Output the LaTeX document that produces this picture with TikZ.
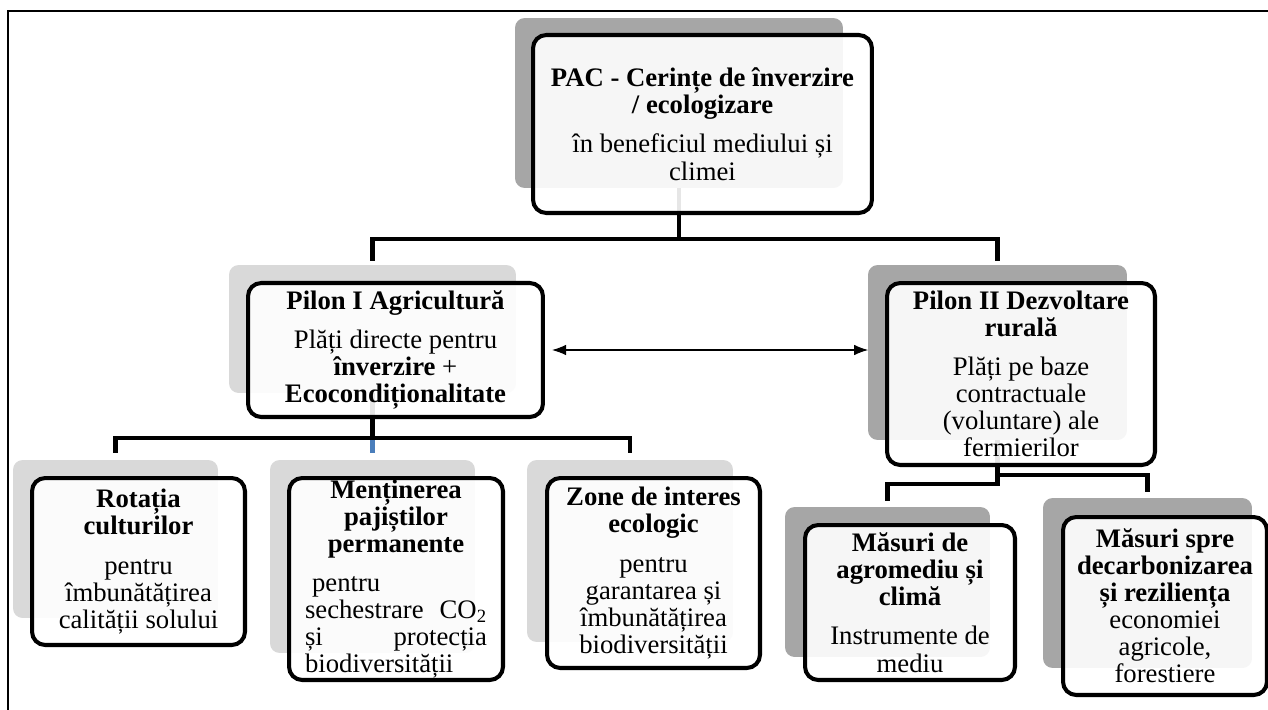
\documentclass[tikz,border=0pt]{standalone}
\usepackage{fontspec}
\setmainfont{Liberation Serif}
\usepackage{tikz}
\usetikzlibrary{arrows.meta,positioning}
\definecolor{shdark}{HTML}{A6A6A6}
\definecolor{shlight}{HTML}{D9D9D9}
\definecolor{stubblue}{HTML}{4A7EBB}
\tikzset{edge/.style={line width=2.3pt, line join=miter}}
\tikzset{shd/.style={rectangle, rounded corners=5.5pt, inner sep=0pt}}
\tikzset{box/.style={rectangle, rounded corners=7.5pt, draw=black, line width=2.3pt, fill=white, fill opacity=0.9, text opacity=1, inner sep=0pt, align=center}}
\tikzset{biarrow/.style={{Latex[length=8pt,width=6pt]}-{Latex[length=8pt,width=6pt]}, line width=0.6pt}}

\begin{document}
\begin{tikzpicture}[x=0.02cm, y=-0.02cm, every node/.style={font=\fontsize{15.2}{15.4}\selectfont}]
                \useasboundingbox (0,0) rectangle (1268,710);
                \draw[line width=1.5pt] (8,710) -- (8,11) -- (1268,11);

                \node[shd, fill=shdark, minimum width=6.56cm, minimum height=3.40cm] (pacs) at (679,103) {};
                \node[shd, fill=shlight, minimum width=5.74cm, minimum height=2.56cm] (p1s) at (372.5,329) {};
                \node[shd, fill=shdark, minimum width=5.18cm, minimum height=3.50cm] (p2s) at (997.5,352.5) {};
                \node[shd, fill=shlight, minimum width=4.10cm, minimum height=3.16cm] (rots) at (115.5,539) {};
                \node[shd, fill=shlight, minimum width=4.10cm, minimum height=3.86cm] (mens) at (372.5,556.5) {};
                \node[shd, fill=shlight, minimum width=4.12cm, minimum height=3.64cm] (zons) at (630,551) {};
                \node[shd, fill=shdark, minimum width=4.10cm, minimum height=3.00cm] (agrs) at (887.5,582) {};
                \node[shd, fill=shdark, minimum width=4.18cm, minimum height=3.40cm] (decs) at (1147.5,583) {};

                \draw[edge, shorten >=2pt] (pacs.south) -- ++(0,51) -| (p1s.north);
                \draw[edge, shorten >=2pt] (pacs.south) ++(0,51) -| (p2s.north);
                \draw[edge, stubblue, shorten >=4pt] (p1s.south) ++(0,45) -- (mens.north);
                \draw[edge, shorten >=4pt] (p1s.south) -- ++(0,45) -| (rots.north);
                \draw[edge, shorten >=4pt] (p1s.south) ++(0,45) -| (zons.north);
                \draw[edge, shorten >=3pt] (p2s.south) -- ++(0,44) -| (agrs.north);
                \draw[edge, shorten >=3pt] (p2s.south) -- ++(0,35) -| (decs.north);

                \node[box, minimum width=6.78cm, minimum height=3.56cm] (pac) at (702.5,124)
                    {\textbf{PAC - Cerințe de înverzire}\\\textbf{/ ecologizare}\\[7pt]în beneficiul mediului și\\climei};
                \node[box, minimum width=5.90cm, minimum height=2.68cm] (p1) at (395.5,350)
                    {\textbf{Pilon I Agricultură}\\[7pt]Plăți directe pentru\\\textbf{înverzire} +\\\textbf{Ecocondiționalitate}};
                \node[box, minimum width=5.36cm, minimum height=3.64cm] (p2) at (1021,374)
                    {\textbf{Pilon II Dezvoltare}\\\textbf{rurală}\\[7pt]Plăți pe baze\\contractuale\\(voluntare) ale\\fermierilor};
                \node[box, minimum width=4.26cm, minimum height=3.34cm] (rot) at (138.5,561.5)
                    {\textbf{Rotația}\\\textbf{culturilor}\\[7pt]pentru\\îmbunătățirea\\calității solului};
                \node[box, minimum width=4.28cm, minimum height=4.04cm] (men) at (396,579)
                    {\textbf{Menținerea}\\\textbf{pajiștilor}\\\textbf{permanente}\\[7pt]\hbox to 3.64cm{\hspace{4pt}pentru\hfil}\\\hbox to 3.64cm{sechestrare\hfill CO\textsubscript{2}}\\\hbox to 3.64cm{și\hfill protecția}\\\hbox to 3.64cm{biodiversității\hfil}};
                \node[box, minimum width=4.26cm, minimum height=3.80cm] (zon) at (653.5,573)
                    {\textbf{Zone de interes}\\\textbf{ecologic}\\[7pt]pentru\\garantarea și\\îmbunătățirea\\biodiversității};
                \node[box, minimum width=4.20cm, minimum height=3.10cm] (agr) at (910,602.5)
                    {\textbf{Măsuri de}\\\textbf{agromediu și}\\\textbf{climă}\\[7pt]Instrumente de\\mediu};
                \node[box, minimum width=4.08cm, minimum height=3.56cm] (dec) at (1165,606)
                    {\textbf{Măsuri spre}\\\textbf{decarbonizarea}\\\textbf{și reziliența}\\economiei\\agricole,\\forestiere};

                \draw[biarrow, shorten <=4pt, shorten >=9.6pt] (p1.east) -- (p1.east -| p2.west);
            \end{tikzpicture}
\end{document}
